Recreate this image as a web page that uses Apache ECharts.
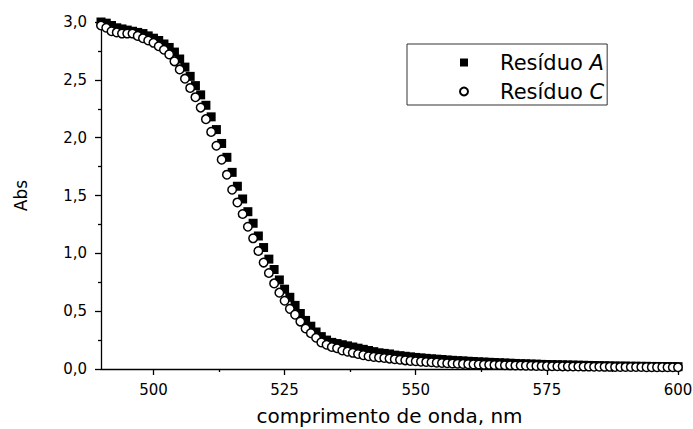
<!DOCTYPE html>
<html>
<head>
<meta charset="utf-8">
<script src="https://cdn.jsdelivr.net/npm/echarts@6/dist/echarts.min.js"></script>
<style>
  html, body { margin: 0; padding: 0; background: #fff; }
  #chart { width: 693px; height: 429px; }
</style>
</head>
<body>
<div id="chart"></div>
<script>
// comprimentos de onda (nm)
const wavelength = [
  490, 491, 492, 493, 494, 495, 496, 497, 498, 499,
  500, 501, 502, 503, 504, 505, 506, 507, 508, 509,
  510, 511, 512, 513, 514, 515, 516, 517, 518, 519,
  520, 521, 522, 523, 524, 525, 526, 527, 528, 529,
  530, 531, 532, 533, 534, 535, 536, 537, 538, 539,
  540, 541, 542, 543, 544, 545, 546, 547, 548, 549,
  550, 551, 552, 553, 554, 555, 556, 557, 558, 559,
  560, 561, 562, 563, 564, 565, 566, 567, 568, 569,
  570, 571, 572, 573, 574, 575, 576, 577, 578, 579,
  580, 581, 582, 583, 584, 585, 586, 587, 588, 589,
  590, 591, 592, 593, 594, 595, 596, 597, 598, 599,
  600
];

// Resíduo A (quadrados)
const absA = [
  3.00, 2.99, 2.97, 2.95, 2.94, 2.93, 2.92, 2.91, 2.90, 2.88,
  2.86, 2.84, 2.81, 2.78, 2.74, 2.68, 2.61, 2.53, 2.45, 2.37,
  2.28, 2.18, 2.07, 1.95, 1.83, 1.70, 1.58, 1.47, 1.36, 1.26,
  1.15, 1.05, 0.95, 0.86, 0.77, 0.69, 0.62, 0.55, 0.48, 0.42,
  0.37, 0.32, 0.28, 0.25, 0.23, 0.22, 0.21, 0.20, 0.19, 0.18,
  0.17, 0.16, 0.15, 0.14, 0.135, 0.13, 0.12, 0.115, 0.11, 0.105,
  0.100, 0.096, 0.092, 0.088, 0.085, 0.082, 0.078, 0.075, 0.072, 0.070,
  0.067, 0.065, 0.062, 0.060, 0.058, 0.056, 0.054, 0.052, 0.050, 0.048,
  0.046, 0.045, 0.043, 0.042, 0.040, 0.039, 0.038, 0.037, 0.036, 0.035,
  0.034, 0.033, 0.032, 0.031, 0.030, 0.029, 0.028, 0.027, 0.026, 0.025,
  0.025, 0.024, 0.024, 0.023, 0.023, 0.022, 0.022, 0.021, 0.021, 0.020,
  0.020
];

// Resíduo C (círculos)
const absC = [
  2.97, 2.95, 2.92, 2.91, 2.90, 2.90, 2.90, 2.88, 2.86, 2.84,
  2.82, 2.79, 2.76, 2.72, 2.66, 2.59, 2.51, 2.43, 2.35, 2.26,
  2.16, 2.05, 1.93, 1.81, 1.68, 1.55, 1.44, 1.34, 1.23, 1.13,
  1.02, 0.92, 0.83, 0.74, 0.66, 0.59, 0.52, 0.47, 0.41, 0.35,
  0.31, 0.27, 0.23, 0.21, 0.19, 0.18, 0.16, 0.15, 0.14, 0.13,
  0.12, 0.11, 0.105, 0.100, 0.095, 0.090, 0.085, 0.080, 0.075, 0.070,
  0.067, 0.064, 0.061, 0.058, 0.055, 0.052, 0.050, 0.048, 0.046, 0.044,
  0.042, 0.040, 0.039, 0.037, 0.036, 0.035, 0.034, 0.033, 0.032, 0.031,
  0.030, 0.029, 0.028, 0.027, 0.026, 0.025, 0.024, 0.024, 0.023, 0.023,
  0.022, 0.022, 0.021, 0.021, 0.020, 0.020, 0.019, 0.019, 0.018, 0.018,
  0.018, 0.017, 0.017, 0.017, 0.016, 0.016, 0.016, 0.016, 0.015, 0.015,
  0.015
];

const xLabels = [500, 525, 550, 575, 600];
const xMinor = [512.5, 537.5, 562.5, 587.5];

const fonte = 'DejaVu Sans';
const virgula = v => v.toFixed(1).replace('.', ',');

// svg: assim o nome do eixo y sai girado
const chart = echarts.init(document.getElementById('chart'), null, { renderer: 'svg' });

const option = {
  backgroundColor: '#fff',
  animation: false,
  grid: { left: 101, right: 15, top: 22, bottom: 60, containLabel: false, outerBoundsMode: 'none' },
  xAxis: [
    {
      type: 'value',
      min: 490,
      max: 600,
      name: 'comprimento de onda, nm',
      nameLocation: 'middle',
      nameGap: 37,
      nameTextStyle: { fontFamily: fonte, fontSize: 20, color: '#000' },
      splitLine: { show: false },
      axisLine: { onZero: false, lineStyle: { color: '#000', width: 1.3 } },
      axisTick: { customValues: xLabels, length: 6, lineStyle: { color: '#000', width: 1.3 } },
      axisLabel: { customValues: xLabels, margin: 13, fontFamily: fonte, fontSize: 15, color: '#000' }
    },
    {
      // só para os traços menores
      type: 'value',
      min: 490,
      max: 600,
      position: 'bottom',
      splitLine: { show: false },
      axisLine: { show: false, onZero: false },
      axisTick: { customValues: xMinor, length: 3, lineStyle: { color: '#000', width: 1.3 } },
      axisLabel: { show: false }
    }
  ],
  yAxis: {
    type: 'value',
    min: 0,
    max: 3,
    interval: 0.5,
    name: 'Abs',
    nameLocation: 'middle',
    nameGap: 72,
    nameTextStyle: { fontFamily: fonte, fontSize: 17, color: '#000' },
    splitLine: { show: false },
    axisLine: { show: true, onZero: false, lineStyle: { color: '#000', width: 1.3 } },
    axisTick: { show: true, length: 6, lineStyle: { color: '#000', width: 1.3 } },
    minorTick: { show: true, splitNumber: 2, length: 3, lineStyle: { color: '#000', width: 1.3 } },
    axisLabel: { margin: 14, fontFamily: fonte, fontSize: 15, color: '#000', formatter: virgula }
  },
  legend: {
    orient: 'vertical',
    left: 407,
    top: 44,
    data: [
      { name: 'Resíduo A', icon: 'rect' },
      { name: 'Resíduo C', icon: 'circle' }
    ],
    itemWidth: 8,
    itemHeight: 8,
    itemGap: 8,
    padding: [8, 3, 3, 52],
    borderColor: '#333',
    borderWidth: 1,
    backgroundColor: '#fff',
    formatter: name => '{n|Resíduo }{i|' + name.slice(-1) + '}',
    textStyle: {
      padding: [0, 0, 0, 27],
      rich: {
        n: { fontFamily: fonte, fontSize: 21, color: '#000' },
        i: { fontFamily: fonte, fontSize: 21, fontStyle: 'italic', color: '#000' }
      }
    }
  },
  series: [
    {
      name: 'Resíduo A',
      type: 'scatter',
      symbol: 'rect',
      symbolSize: 9,
      itemStyle: { color: '#000', opacity: 1 },
      data: wavelength.map((w, i) => [w, absA[i]])
    },
    {
      name: 'Resíduo C',
      type: 'scatter',
      symbol: 'circle',
      symbolSize: 8.5,
      itemStyle: { color: '#fff', borderColor: '#000', borderWidth: 1.5, opacity: 1 },
      data: wavelength.map((w, i) => [w, absC[i]])
    }
  ]
};

chart.setOption(option);
</script>
</body>
</html>
